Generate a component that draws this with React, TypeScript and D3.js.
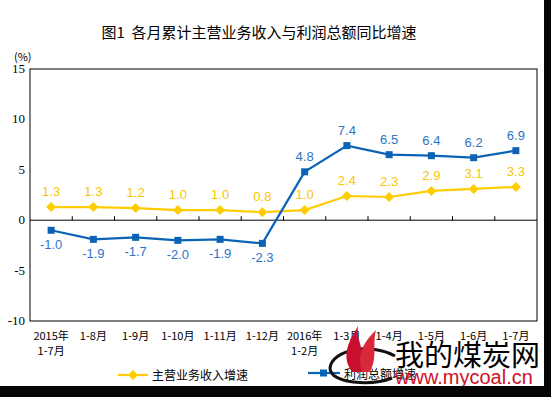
import React from "react";
import * as d3 from "d3";

const categories = [
  ["2015年", "1-7月"], ["1-8月"], ["1-9月"], ["1-10月"], ["1-11月"], ["1-12月"],
  ["2016年", "1-2月"], ["1-3月"], ["1-4月"], ["1-5月"], ["1-6月"], ["1-7月"],
];
const revenueGrowth = [1.3, 1.3, 1.2, 1.0, 1.0, 0.8, 1.0, 2.4, 2.3, 2.9, 3.1, 3.3];
const profitGrowth = [-1.0, -1.9, -1.7, -2.0, -1.9, -2.3, 4.8, 7.4, 6.5, 6.4, 6.2, 6.9];
const yTicks = [15, 10, 5, 0, -5, -10];
const title = "图1  各月累计主营业务收入与利润总额同比增速";
const legendNames = ["主营业务收入增速", "利润总额增速"];

const W = 551, H = 397;
const plot = { left: 30, right: 537, top: 69, bottom: 321 };
const YELLOW = "#FFCC00";
const YELLOW_TXT = "#F7C600";
const BLUE = "#0B63B6";
const BLUE_TXT = "#2E74C6";

export default function App() {
  const x = d3.scalePoint<number>()
    .domain(categories.map((_, i) => i))
    .range([plot.left, plot.right])
    .padding(0.5);
  const y = d3.scaleLinear().domain([-10, 15]).range([plot.bottom, plot.top]);
  const line = d3.line<number>().x((_, i) => x(i)!).y((d) => y(d));
  const step = x.step();
  const cjk = "'Noto Sans CJK SC', sans-serif";

  return (
    <svg width={W} height={H} style={{ position: "absolute", left: 0, top: 0, background: "#fff" }}>
      <rect x={0} y={0} width={W} height={H} fill="#fff" />
      <text x={259} y={38} textAnchor="middle" fontFamily={cjk} fontSize={15} fill="#000" style={{ whiteSpace: "pre" }}>{title}</text>
      <text x={14} y={61} fontFamily={cjk} fontSize={11} fill="#000">(%)</text>

      {/* frame */}
      <rect x={plot.left} y={plot.top} width={plot.right - plot.left} height={plot.bottom - plot.top} fill="none" stroke="#000" strokeWidth={1} />
      <line x1={plot.left} x2={plot.right} y1={y(0)} y2={y(0)} stroke="#000" />
      {categories.slice(1).map((_, i) => {
        const xx = x(i)! + step / 2;
        return <line key={i} x1={xx} x2={xx} y1={y(0)} y2={y(0) - 4} stroke="#000" />;
      })}
      {yTicks.map((t) => (
        <text key={t} x={25} y={y(t) + 4} textAnchor="end" fontFamily="'Liberation Serif', serif" fontSize={13} fill="#000">{t}</text>
      ))}

      {/* x labels */}
      {categories.map((c, i) => (
        <g key={i}>
          {c.map((s, j) => (
            <text key={j} x={x(i)!} y={340 + j * 15} textAnchor="middle" fontFamily={cjk} fontSize={11} fill="#000">{s}</text>
          ))}
        </g>
      ))}

      {/* lines */}
      <path d={line(revenueGrowth)!} fill="none" stroke={YELLOW} strokeWidth={2.2} />
      <path d={line(profitGrowth)!} fill="none" stroke={BLUE} strokeWidth={2.2} />
      {revenueGrowth.map((v, i) => (
        <g key={i}>
          <path d={`M${x(i)},${y(v) - 5}L${x(i)! + 5},${y(v)}L${x(i)},${y(v) + 5}L${x(i)! - 5},${y(v)}Z`} fill={YELLOW} />
          <text x={x(i)!} y={y(v) - 11} textAnchor="middle" fontFamily="'Liberation Sans', sans-serif" fontSize={13} fill={YELLOW_TXT}>{v.toFixed(1)}</text>
        </g>
      ))}
      {profitGrowth.map((v, i) => (
        <g key={i}>
          <rect x={x(i)! - 3.5} y={y(v) - 3.5} width={7} height={7} fill={BLUE} />
          <text x={x(i)!} y={v < 0 ? y(v) + 19 : y(v) - 11} textAnchor="middle" fontFamily="'Liberation Sans', sans-serif" fontSize={13} fill={BLUE_TXT}>{v.toFixed(1)}</text>
        </g>
      ))}

      {/* legend */}
      <line x1={118} x2={148} y1={375} y2={375} stroke={YELLOW} strokeWidth={2.2} />
      <path d="M133,370L138,375L133,380L128,375Z" fill={YELLOW} />
      <text x={152} y={380} fontFamily={cjk} fontSize={12} fill="#000">{legendNames[0]}</text>
      <line x1={308} x2={340} y1={373} y2={373} stroke={BLUE} strokeWidth={2.2} />
      <rect x={320} y={369.5} width={7} height={7} fill={BLUE} />
      <text x={344} y={379} fontFamily={cjk} fontSize={12} fill="#000">{legendNames[1]}</text>

      {/* watermark */}
      <path d="M395,356 C370,342 332,350 330,368 C330,384 372,386 392,378" fill="none" stroke="#111" strokeWidth={3} />
      <path d="M352,372 C340,355 350,340 358,326 C356,342 366,348 362,372 Z" fill="#c8102e" />
      <path d="M362,372 C356,352 366,340 376,330 C372,346 378,356 370,372 Z" fill="#d8283a" />
      <text x={395} y={366} fontFamily={cjk} fontSize={29} fill="#000">我的煤炭网</text>
      <text x={395} y={384} fontFamily="'Liberation Sans', sans-serif" fontSize={20} fill="#d0102a">www.mycoal.cn</text>

      {/* black borders */}
      <rect x={544} y={0} width={7} height={H} fill="#050505" />
      <rect x={0} y={386} width={W} height={11} fill="#050505" />
    </svg>
  );
}
